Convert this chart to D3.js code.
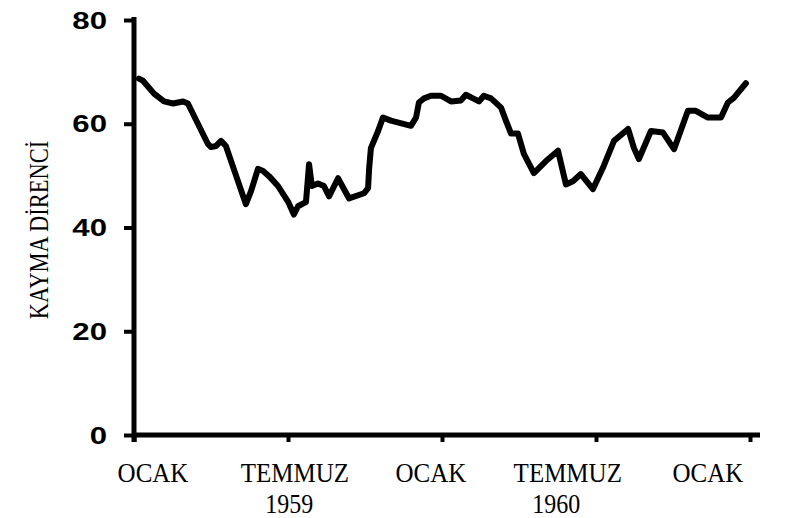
<!DOCTYPE html>
<html>
<head>
<meta charset="utf-8">
<script src="https://cdn.jsdelivr.net/npm/d3@7/dist/d3.min.js"></script>
<style>
body { margin: 0; background: #fff; }
</style>
</head>
<body>
<div class="chart"></div>
<script>
// aylar: ocak 1959 = 0
const months = [0.19, 0.35, 0.78, 1.17, 1.52, 1.91, 2.10, 2.49, 2.88, 3.00, 3.19, 3.39, 3.58, 3.97, 4.36, 4.56, 4.83, 5.03, 5.26, 5.61, 6.00, 6.23, 6.39, 6.62, 6.70, 6.82, 6.93, 7.17, 7.40, 7.60, 7.95, 8.38, 8.96, 9.12, 9.16, 9.23, 9.51, 9.70, 10.01, 10.79, 10.99, 11.10, 11.30, 11.57, 11.96, 12.35, 12.74, 12.93, 13.21, 13.44, 13.63, 13.91, 14.30, 14.49, 14.69, 14.96, 15.19, 15.58, 16.05, 16.52, 16.83, 17.10, 17.41, 17.88, 18.27, 18.70, 19.25, 19.48, 19.67, 20.14, 20.61, 21.04, 21.58, 21.89, 22.36, 22.87, 23.14, 23.37, 23.84]
const values = [68.7, 68.3, 65.8, 64.3, 63.9, 64.3, 63.9, 60.0, 56.1, 55.5, 55.7, 56.7, 55.7, 50.1, 44.5, 47.0, 51.3, 50.9, 49.9, 48.0, 45.0, 42.5, 44.1, 44.7, 44.9, 52.2, 48.0, 48.5, 48.0, 46.0, 49.5, 45.6, 46.6, 47.6, 51.3, 55.3, 58.6, 61.2, 60.6, 59.6, 61.2, 64.1, 64.9, 65.4, 65.4, 64.3, 64.5, 65.6, 64.9, 64.3, 65.4, 64.9, 63.1, 60.6, 58.1, 58.1, 54.2, 50.5, 52.8, 54.8, 48.3, 48.9, 50.3, 47.4, 51.5, 56.7, 59.0, 55.3, 53.2, 58.6, 58.3, 55.1, 62.5, 62.5, 61.2, 61.2, 64.1, 65.0, 67.8]
const yTicks = [0, 20, 40, 60, 80]
const xTicks = [0, 6, 12, 18, 24]
const monthLabels = ["OCAK", "TEMMUZ", "OCAK", "TEMMUZ", "OCAK"]
const monthLabelAt = [0.74, 6.27, 11.57, 16.9, 22.36]
const yearLabels = ["1959", "1960"]
const yearLabelAt = [6.05, 16.45]
const yTitle = "KAYMA DİRENCİ"

let width = 787
let height = 518
let svg = d3.select(".chart")
    .append("svg")
    .attr("width", width)
    .attr("height", height)

let x = d3.scaleLinear().domain([0, 24]).range([134, 750])
let y = d3.scaleLinear().domain([0, 80]).range([435, 20])

//eksenler
let axisG = svg.append("g")
axisG.append("line")
    .attr("x1", x(0)).attr("x2", x(24) + 10)
    .attr("y1", y(0)).attr("y2", y(0))
    .attr("stroke", "#000").attr("stroke-width", 5)
axisG.append("line")
    .attr("x1", x(0)).attr("x2", x(0))
    .attr("y1", y(80) - 3).attr("y2", y(0) + 7)
    .attr("stroke", "#000").attr("stroke-width", 5)

let yAxis = svg.append("g")
    .attr("transform", `translate(${x(0)},0)`)
    .call(d3.axisLeft(y).tickValues(yTicks).tickSize(10).tickSizeOuter(0).tickFormat(""))
yAxis.select(".domain").remove()
yAxis.selectAll("line").attr("stroke", "#000").attr("stroke-width", 4)

let xAxis = svg.append("g")
    .attr("transform", `translate(0,${y(0)})`)
    .call(d3.axisBottom(x).tickValues(xTicks).tickSize(7).tickSizeOuter(0).tickFormat(""))
xAxis.select(".domain").remove()
xAxis.selectAll("line").attr("stroke", "#000").attr("stroke-width", 4)

//y etiketleri
svg.append("g")
    .selectAll("text")
    .data(yTicks)
    .enter()
    .append("text")
    .attr("transform", (d) => `translate(107,${y(d) + 8.5}) scale(1.3,1)`)
    .attr("text-anchor", "end")
    .attr("font-family", "Liberation Sans, Arial, sans-serif")
    .attr("font-weight", "bold")
    .attr("font-size", 24)
    .text((d) => d)

//x etiketleri
svg.append("g")
    .selectAll("text")
    .data(monthLabels)
    .enter()
    .append("text")
    .attr("transform", (d, i) => `translate(${x(monthLabelAt[i])},482) scale(1,1.12)`)
    .attr("text-anchor", "middle")
    .attr("font-family", "Liberation Serif, Times New Roman, serif")
    .attr("font-size", 25)
    .text((d) => d)
svg.append("g")
    .selectAll("text")
    .data(yearLabels)
    .enter()
    .append("text")
    .attr("transform", (d, i) => `translate(${x(yearLabelAt[i])},513) scale(1,1.12)`)
    .attr("text-anchor", "middle")
    .attr("font-family", "Liberation Serif, Times New Roman, serif")
    .attr("font-size", 24)
    .text((d) => d)

svg.append("text")
    .attr("transform", "translate(48,230) rotate(-90) scale(1,1.2)")
    .attr("text-anchor", "middle")
    .attr("font-family", "Liberation Serif, Times New Roman, serif")
    .attr("font-size", 22.5)
    .text(yTitle)

//veri çizgisi
let line = d3.line()
    .x((d) => x(d[0]))
    .y((d) => y(d[1]))
svg.append("path")
    .datum(months.map((m, i) => [m, values[i]]))
    .attr("fill", "none")
    .attr("stroke", "#000")
    .attr("stroke-width", 6)
    .attr("stroke-linejoin", "round")
    .attr("stroke-linecap", "round")
    .attr("d", line)
</script>
</body>
</html>
